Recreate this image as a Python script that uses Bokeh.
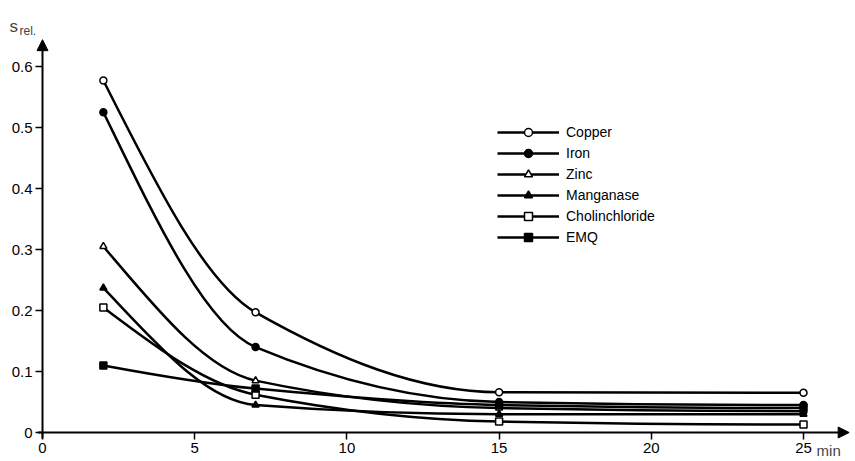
import numpy as np
from bokeh.plotting import figure
from bokeh.models import (Range1d, Arrow, NormalHead, Label, Legend, LegendItem,
                          FixedTicker, CustomJSTickFormatter)
from bokeh.embed import file_html
from bokeh.resources import INLINE

# ---------------- data ----------------
time_min = [2, 7, 15, 25]
copper = [0.577, 0.197, 0.066, 0.065]
iron = [0.525, 0.140, 0.050, 0.045]
zinc = [0.305, 0.085, 0.040, 0.035]
manganase = [0.237, 0.045, 0.030, 0.030]
cholinchloride = [0.205, 0.062, 0.018, 0.013]
emq = [0.110, 0.072, 0.045, 0.040]
series_names = ["Copper", "Iron", "Zinc", "Manganase", "Cholinchloride", "EMQ"]
x_ticks = [0, 5, 10, 15, 20, 25]
y_ticks = [0, 0.1, 0.2, 0.3, 0.4, 0.5, 0.6]
x_unit = "min"
y_symbol = "s"
y_sub = "rel."

FONT = "Liberation Sans"

series = [copper, iron, zinc, manganase, cholinchloride, emq]
markers = ["circle", "circle", "triangle", "triangle", "square", "square"]
fills = ["white", "black", "white", "black", "white", "black"]


def pchip_slopes(x, y):
    x = np.asarray(x, float)
    y = np.asarray(y, float)
    h = np.diff(x)
    d = np.diff(y) / h
    n = len(x)
    m = np.zeros(n)
    for k in range(1, n - 1):
        if d[k - 1] * d[k] <= 0:
            m[k] = 0.0
        else:
            w1 = 2 * h[k] + h[k - 1]
            w2 = h[k] + 2 * h[k - 1]
            m[k] = (w1 + w2) / (w1 / d[k - 1] + w2 / d[k])

    def end(h0, h1, d0, d1):
        s = ((2 * h0 + h1) * d0 - h0 * d1) / (h0 + h1)
        if np.sign(s) != np.sign(d0):
            s = 0.0
        elif np.sign(d0) != np.sign(d1) and abs(s) > abs(3 * d0):
            s = 3 * d0
        return s

    m[0] = end(h[0], h[1], d[0], d[1])
    m[-1] = end(h[-1], h[-2], d[-1], d[-2])
    return m


def bezier_segments(x, y):
    x = np.asarray(x, float)
    y = np.asarray(y, float)
    m = pchip_slopes(x, y)
    h = np.diff(x)
    return dict(
        x0=x[:-1], y0=y[:-1], x1=x[1:], y1=y[1:],
        cx0=x[:-1] + h / 3, cy0=y[:-1] + m[:-1] * h / 3,
        cx1=x[1:] - h / 3, cy1=y[1:] - m[1:] * h / 3,
    )


W, H = 850, 458
X0_PX = 42.0     # screen position of x = 0 inside the figure
Y0_PX = 432.0    # screen position of y = 0 (from top)
XS = 30.44       # px per minute
YS = 610.0       # px per unit

x_start = -X0_PX / XS
x_end = (W - X0_PX) / XS
y_start = -(H - Y0_PX) / YS
y_end = Y0_PX / YS

p = figure(width=W, height=H, output_backend="svg", toolbar_location=None,
           x_range=Range1d(x_start, x_end), y_range=Range1d(y_start, y_end),
           min_border=0, min_border_left=0, min_border_right=0,
           min_border_top=0, min_border_bottom=0)
p.outline_line_color = None
p.xgrid.visible = False
p.ygrid.visible = False
p.background_fill_color = "white"

for ax in (p.xaxis[0], p.yaxis[0]):
    ax.fixed_location = 0
    ax.axis_line_color = None
    ax.major_tick_line_color = "black"
    ax.major_tick_line_width = 1.5
    ax.major_tick_in = 0
    ax.major_tick_out = 7
    ax.minor_tick_line_color = None
    ax.major_label_text_font = FONT
    ax.major_label_text_font_size = "15px"
    ax.major_label_text_color = "black"
    ax.major_label_standoff = 3

p.xaxis.ticker = FixedTicker(ticks=x_ticks)
p.yaxis.ticker = FixedTicker(ticks=y_ticks)
p.yaxis.formatter = CustomJSTickFormatter(code="return tick == 0 ? '0' : tick.toFixed(1);")

# axes drawn as arrows
p.add_layout(Arrow(end=NormalHead(size=11, fill_color="black", line_color="black"),
                   x_start=-0.15, y_start=0, x_end=26.5, y_end=0,
                   line_width=2, line_color="black"))
p.add_layout(Arrow(end=NormalHead(size=11, fill_color="black", line_color="black"),
                   x_start=0, y_start=-0.01, x_end=0, y_end=0.644,
                   line_width=2, line_color="black"))

items = []
for name, vals, mk, fc in zip(series_names, series, markers, fills):
    seg = bezier_segments(time_min, vals)
    r_line = p.bezier(x0="x0", y0="y0", x1="x1", y1="y1", cx0="cx0", cy0="cy0",
                      cx1="cx1", cy1="cy1", source=seg, line_color="black",
                      line_width=2.5)
    r_pts = p.scatter(time_min, vals, marker=mk, size=7, fill_color=fc,
                      line_color="black", line_width=1.5)
    items.append(LegendItem(label=name, renderers=[r_line, r_pts]))

legend = Legend(items=items, location=(497, 211), orientation="vertical",
                glyph_width=62, glyph_height=20, label_height=20, spacing=1,
                padding=0, margin=0, label_standoff=7,
                label_text_font=FONT, label_text_font_size="14px",
                label_text_color="black",
                border_line_color=None, background_fill_alpha=0)
p.add_layout(legend, "center")

p.add_layout(Label(x=25.43, y=-0.0155, text=x_unit, text_font=FONT,
                   text_font_size="15px", text_baseline="top", text_align="left"))
p.add_layout(Label(x=-1.084, y=0.6656, text=y_symbol, text_font=FONT,
                   text_font_size="17px", text_baseline="alphabetic"))
p.add_layout(Label(x=-0.755, y=0.6574, text=y_sub, text_font=FONT,
                   text_font_size="12px", text_baseline="alphabetic"))

open("out.html", "w").write(file_html(p, INLINE))
